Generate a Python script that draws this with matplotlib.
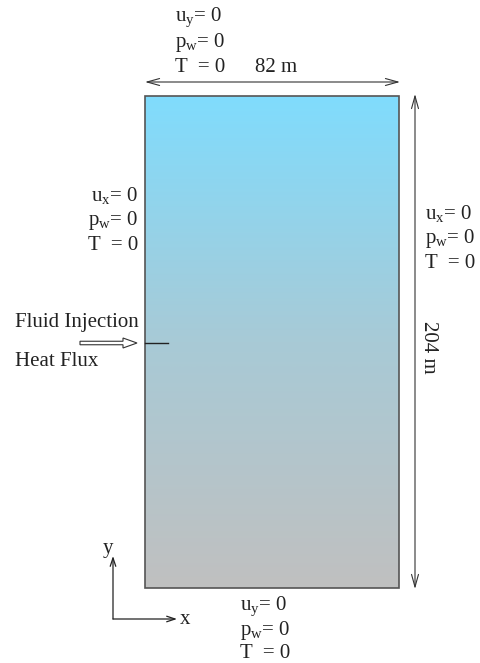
import numpy as np
import matplotlib.pyplot as plt
from matplotlib.patches import Rectangle, FancyArrow
from matplotlib.colors import LinearSegmentedColormap

plt.rcParams['font.family'] = ['Liberation Serif', 'DejaVu Serif']
plt.rcParams['mathtext.fontset'] = 'custom'
plt.rcParams['mathtext.rm'] = 'Liberation Serif'

# domain size (labels) and boundary conditions
domain_width_m = 82
domain_height_m = 204
top_bc = [("u", "y"), ("p", "w"), ("T", None)]
side_bc = [("u", "x"), ("p", "w"), ("T", None)]
bottom_bc = [("u", "y"), ("p", "w"), ("T", None)]
source_labels = ["Fluid Injection", "Heat Flux"]
gradient_colors = ["#80dcfd", "#a8cad6", "#c0c0c0"]

# drawing frame in pixels
W, H = 481, 663
box_l, box_r, box_t, box_b = 145, 399, 96, 588

fig = plt.figure(figsize=(W / 100, H / 100), dpi=100)
ax = fig.add_axes([0, 0, 1, 1])
ax.set_xlim(0, W)
ax.set_ylim(H, 0)
ax.axis('off')

# model domain with vertical colour gradient
cmap = LinearSegmentedColormap.from_list('dom', gradient_colors)
grad = np.linspace(0, 1, 256).reshape(-1, 1)
ax.imshow(grad, cmap=cmap, aspect='auto', extent=(box_l, box_r, box_b, box_t),
          interpolation='bicubic', zorder=1)
ax.add_patch(Rectangle((box_l, box_t), box_r - box_l, box_b - box_t,
                       fill=False, ec='#555555', lw=1.2, zorder=2))

FS = 15


def bc_label(sym, sub):
    if sub is None:
        return sym + "  = 0"
    return sym + r"$_\mathrm{" + sub + "}$= 0"


def bc_block(bcs, x, y0, ha, dy=24.5):
    for i, (sym, sub) in enumerate(bcs):
        ax.text(x, y0 + i * dy, bc_label(sym, sub), ha=ha, va='center',
                fontsize=FS, color='#222222')


bc_block(top_bc, 175, 18, 'left')
bc_block(side_bc, 138, 196, 'right')
bc_block(side_bc, 425, 214, 'left')
bc_block(bottom_bc, 240, 607, 'left', dy=23)

# width dimension
ax.text(255, 67, "%d m" % domain_width_m, ha='left', va='center',
        fontsize=FS, color='#222222')
ax.annotate("", xy=(box_l, 82), xytext=(box_r + 1, 82),
            arrowprops=dict(arrowstyle='<->,head_length=0.9,head_width=0.25',
                            lw=0.8, color='#333333', shrinkA=0, shrinkB=0))

# height dimension
ax.annotate("", xy=(415, box_t - 2), xytext=(415, box_b + 1),
            arrowprops=dict(arrowstyle='<->,head_length=0.9,head_width=0.25',
                            lw=0.8, color='#333333', shrinkA=0, shrinkB=0))
ax.text(429, 347, "%d m" % domain_height_m, ha='center', va='center',
        rotation=-90, fontsize=FS, color='#222222')

# source
ax.text(15, 322, source_labels[0], ha='left', va='center', fontsize=FS, color='#222222')
ax.text(15, 362, source_labels[1], ha='left', va='center', fontsize=FS, color='#222222')
ax.add_patch(FancyArrow(80, 343, 57, 0, width=3.5, head_width=10, head_length=14,
                        length_includes_head=True, fc='white', ec='#333333',
                        lw=0.8, zorder=3))
ax.plot([box_l, 168], [343, 343], color='#222222', lw=1.0, zorder=3)

# coordinate axes
ox, oy = 113, 619
ax.annotate("", xy=(177, oy), xytext=(ox, oy),
            arrowprops=dict(arrowstyle='->,head_length=0.6,head_width=0.2',
                            lw=0.9, color='#222222', shrinkA=0, shrinkB=0))
ax.annotate("", xy=(ox, 556), xytext=(ox, oy),
            arrowprops=dict(arrowstyle='->,head_length=0.6,head_width=0.2',
                            lw=0.9, color='#222222', shrinkA=0, shrinkB=0))
ax.text(180, 620, "x", ha='left', va='center', fontsize=FS, color='#222222')
ax.text(108, 548, "y", ha='center', va='center', fontsize=FS, color='#222222')

fig.savefig('out.png', dpi=100)
